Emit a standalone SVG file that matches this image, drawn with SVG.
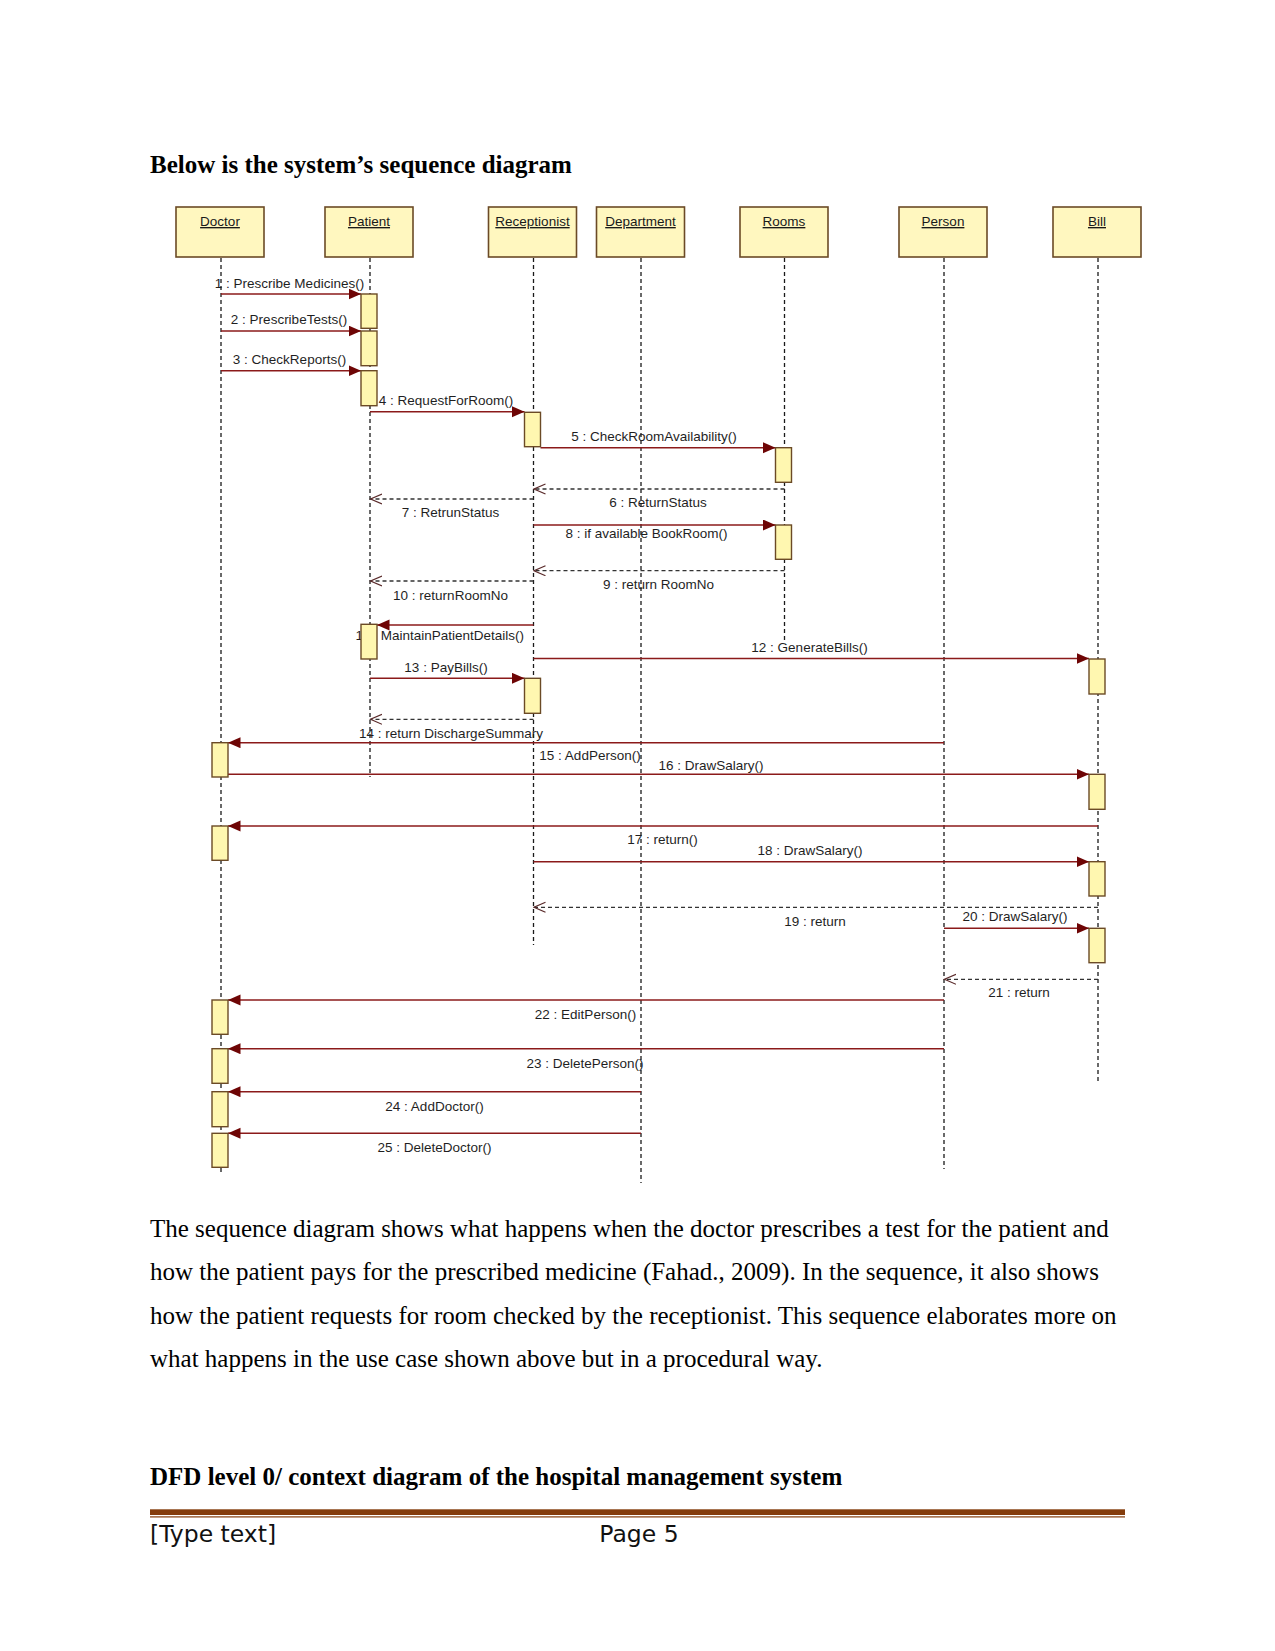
<svg xmlns="http://www.w3.org/2000/svg" width="1275" height="1651" viewBox="0 0 1275 1651">
<style>
.page{font-family:"Liberation Serif","Times New Roman",serif;font-size:25px;fill:#000}
.bold{font-weight:bold}
.head{fill:#fff7bf;stroke:#6b4a26;stroke-width:1.6}
.hl{font-family:"Liberation Sans",Arial,sans-serif;font-size:13.5px;fill:#1a1a1a;text-anchor:middle;text-decoration:underline}
.life{stroke:#1a1a1a;stroke-width:1.3;stroke-dasharray:4 3;fill:none}
.act{fill:#fff7b0;stroke:#6b4a26;stroke-width:1.4}
.msg{stroke:#8b1a1a;stroke-width:1.5;fill:none;marker-end:url(#sync)}
.ret{stroke:#333;stroke-width:1.3;stroke-dasharray:4 3;fill:none;marker-end:url(#open)}
.lbl{font-family:"Liberation Sans",Arial,sans-serif;font-size:13.5px;fill:#1f1f1f;text-anchor:middle}
.foot{font-family:"DejaVu Sans",sans-serif;font-size:23.5px;fill:#111}
</style>
<defs>
<marker id="sync" markerWidth="13" markerHeight="12" refX="12.5" refY="5.5" orient="auto" markerUnits="userSpaceOnUse"><path d="M0,0 L12.5,5.5 L0,11 Z" fill="#6e0505"/></marker>
<marker id="open" markerWidth="13" markerHeight="12" refX="11.5" refY="5.5" orient="auto" markerUnits="userSpaceOnUse"><path d="M0,0.5 L11.5,5.5 L0,10.5" fill="none" stroke="#5a2a2a" stroke-width="1.2"/></marker>
</defs>
<rect width="1275" height="1651" fill="#fff"/>

<text class="page bold" x="150" y="173">Below is the system’s sequence diagram</text>

<g id="lifelines">
<line class="life" x1="221" y1="258" x2="221" y2="1172"/>
<line class="life" x1="370" y1="258" x2="370" y2="777"/>
<line class="life" x1="533.5" y1="258" x2="533.5" y2="945"/>
<line class="life" x1="641" y1="258" x2="641" y2="1183"/>
<line class="life" x1="784.5" y1="258" x2="784.5" y2="641"/>
<line class="life" x1="944" y1="258" x2="944" y2="1169"/>
<line class="life" x1="1098" y1="258" x2="1098" y2="1081"/>
</g>

<g id="node-doctor"><rect class="head" x="176" y="207" width="88" height="50"/><text class="hl" x="220" y="226">Doctor</text></g>
<g id="node-patient"><rect class="head" x="325" y="207" width="88" height="50"/><text class="hl" x="369" y="226">Patient</text></g>
<g id="node-receptionist"><rect class="head" x="488.5" y="207" width="88" height="50"/><text class="hl" x="532.5" y="226">Receptionist</text></g>
<g id="node-department"><rect class="head" x="596.5" y="207" width="88" height="50"/><text class="hl" x="640.5" y="226">Department</text></g>
<g id="node-rooms"><rect class="head" x="740" y="207" width="88" height="50"/><text class="hl" x="784" y="226">Rooms</text></g>
<g id="node-person"><rect class="head" x="899" y="207" width="88" height="50"/><text class="hl" x="943" y="226">Person</text></g>
<g id="node-bill"><rect class="head" x="1053" y="207" width="88" height="50"/><text class="hl" x="1097" y="226">Bill</text></g>

<g id="labels">
<text class="lbl" x="289.5" y="288">1 : Prescribe Medicines()</text>
<text class="lbl" x="289" y="324">2 : PrescribeTests()</text>
<text class="lbl" x="289.5" y="364">3 : CheckReports()</text>
<text class="lbl" x="446" y="404.5">4 : RequestForRoom()</text>
<text class="lbl" x="654" y="441">5 : CheckRoomAvailability()</text>
<text class="lbl" x="658" y="507">6 : ReturnStatus</text>
<text class="lbl" x="450.5" y="517">7 : RetrunStatus</text>
<text class="lbl" x="646.5" y="537.5">8 : if available BookRoom()</text>
<text class="lbl" x="658.5" y="589">9 : return RoomNo</text>
<text class="lbl" x="450.5" y="599.5">10 : returnRoomNo</text>
<text class="lbl" x="355.5" y="640" style="text-anchor:start">11 : MaintainPatientDetails()</text>
<text class="lbl" x="809.5" y="652">12 : GenerateBills()</text>
<text class="lbl" x="446" y="672">13 : PayBills()</text>
<text class="lbl" x="451" y="737.5">14 : return DischargeSummary</text>
<text class="lbl" x="590" y="759.5">15 : AddPerson()</text>
<text class="lbl" x="711" y="769.5">16 : DrawSalary()</text>
<text class="lbl" x="662.5" y="844">17 : return()</text>
<text class="lbl" x="810" y="854.5">18 : DrawSalary()</text>
<text class="lbl" x="815" y="926">19 : return</text>
<text class="lbl" x="1015" y="921">20 : DrawSalary()</text>
<text class="lbl" x="1019" y="997">21 : return</text>
<text class="lbl" x="585.5" y="1018.5">22 : EditPerson()</text>
<text class="lbl" x="585" y="1067.5">23 : DeletePerson()</text>
<text class="lbl" x="434.5" y="1111">24 : AddDoctor()</text>
<text class="lbl" x="434.5" y="1152">25 : DeleteDoctor()</text>
</g>

<g id="connectors">
<line class="msg" x1="221" y1="294" x2="361" y2="294"/>
<line class="msg" x1="221" y1="331" x2="361" y2="331"/>
<line class="msg" x1="221" y1="370.7" x2="361" y2="370.7"/>
<line class="msg" x1="370" y1="411.7" x2="524.5" y2="411.7"/>
<line class="msg" x1="540.5" y1="447.7" x2="775.5" y2="447.7"/>
<line class="ret" x1="784.5" y1="489" x2="534" y2="489"/>
<line class="ret" x1="533.5" y1="499" x2="370.5" y2="499"/>
<line class="msg" x1="533.5" y1="525" x2="775.5" y2="525"/>
<line class="ret" x1="784.5" y1="570.7" x2="534" y2="570.7"/>
<line class="ret" x1="533.5" y1="581" x2="370.5" y2="581"/>
<line class="msg" x1="533.5" y1="625" x2="377" y2="625"/>
<line class="msg" x1="533.5" y1="658.5" x2="1089" y2="658.5"/>
<line class="msg" x1="370" y1="678.3" x2="524.5" y2="678.3"/>
<line class="ret" x1="533.5" y1="719.3" x2="370.5" y2="719.3"/>
<line class="msg" x1="944" y1="742.7" x2="228" y2="742.7"/>
<line class="msg" x1="228" y1="774.3" x2="1089" y2="774.3"/>
<line class="msg" x1="1098" y1="826" x2="228" y2="826"/>
<line class="msg" x1="533.5" y1="861.7" x2="1089" y2="861.7"/>
<line class="ret" x1="1098" y1="907.3" x2="534" y2="907.3"/>
<line class="msg" x1="944" y1="928.3" x2="1089" y2="928.3"/>
<line class="ret" x1="1098" y1="979.3" x2="944.5" y2="979.3"/>
<line class="msg" x1="944" y1="1000" x2="228" y2="1000"/>
<line class="msg" x1="944" y1="1048.7" x2="228" y2="1048.7"/>
<line class="msg" x1="641" y1="1091.7" x2="228" y2="1091.7"/>
<line class="msg" x1="641" y1="1133.3" x2="228" y2="1133.3"/>
</g>

<g id="activations">
<rect class="act" x="361" y="294" width="16" height="34.3"/>
<rect class="act" x="361" y="331" width="16" height="34.7"/>
<rect class="act" x="361" y="370.7" width="16" height="35"/>
<rect class="act" x="361" y="624.3" width="16" height="34.7"/>
<rect class="act" x="524.5" y="412.3" width="16" height="34.4"/>
<rect class="act" x="524.5" y="678.3" width="16" height="35"/>
<rect class="act" x="775.5" y="447.7" width="16" height="34.6"/>
<rect class="act" x="775.5" y="525" width="16" height="34.3"/>
<rect class="act" x="1089" y="659" width="16" height="35"/>
<rect class="act" x="1089" y="774.3" width="16" height="35"/>
<rect class="act" x="1089" y="861.7" width="16" height="34.3"/>
<rect class="act" x="1089" y="928.3" width="16" height="34.4"/>
<rect class="act" x="212" y="742.7" width="16" height="34.3"/>
<rect class="act" x="212" y="826" width="16" height="34.3"/>
<rect class="act" x="212" y="1000" width="16" height="34.3"/>
<rect class="act" x="212" y="1048.7" width="16" height="34.6"/>
<rect class="act" x="212" y="1091.7" width="16" height="35"/>
<rect class="act" x="212" y="1133.3" width="16" height="34"/>
</g>

<text class="page" x="150" y="1237">The sequence diagram shows what happens when the doctor prescribes a test for the patient and</text>
<text class="page" x="150" y="1280.3">how the patient pays for the prescribed medicine (Fahad., 2009). In the sequence, it also shows</text>
<text class="page" x="150" y="1323.6">how the patient requests for room checked by the receptionist. This sequence elaborates more on</text>
<text class="page" x="150" y="1367">what happens in the use case shown above but in a procedural way.</text>

<text class="page bold" x="150" y="1485">DFD level 0/ context diagram of the hospital management system</text>

<rect x="150" y="1509.3" width="975" height="5.7" fill="#843c0c"/>
<rect x="150" y="1516.3" width="975" height="1.2" fill="#843c0c"/>
<text class="foot" x="150" y="1541.7">[Type text]</text>
<text class="foot" x="599.3" y="1541.7">Page 5</text>
</svg>
